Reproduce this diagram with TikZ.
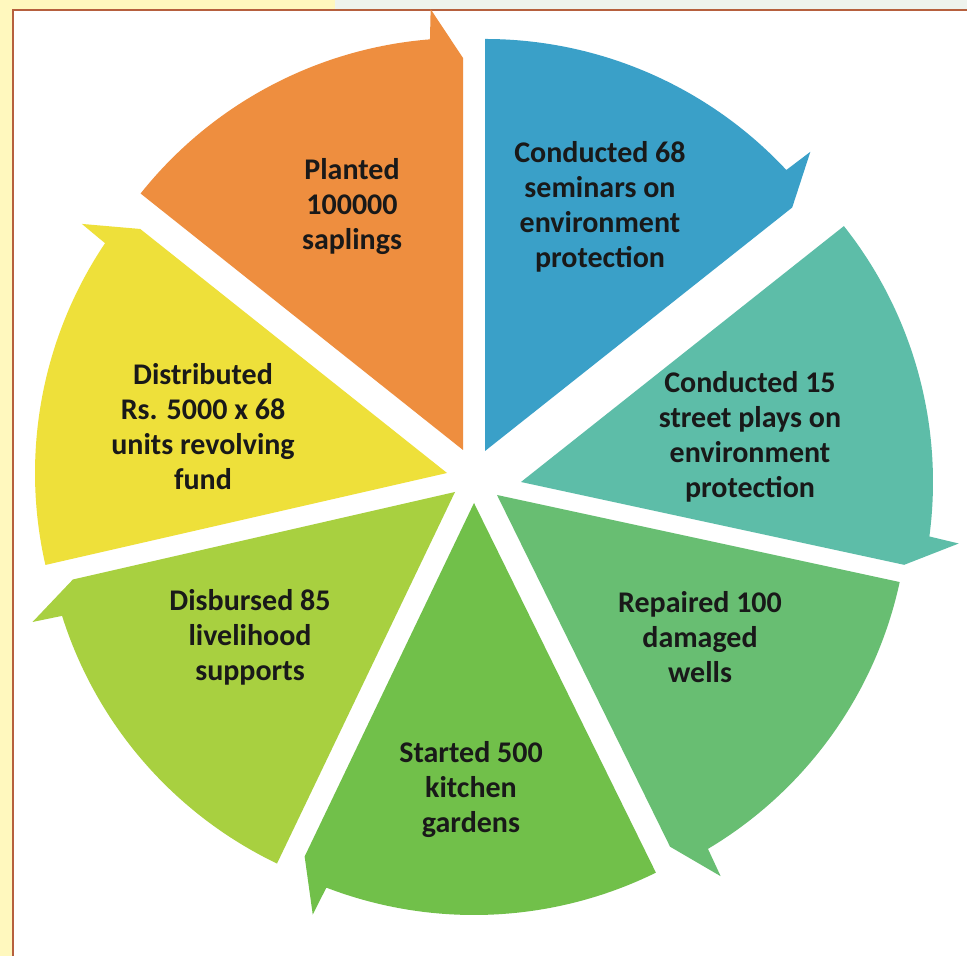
\documentclass[tikz,border=0pt]{standalone}
\usepackage{fontspec}
\setmainfont{Carlito}
\definecolor{paneyellow}{RGB}{255,248,190}
\definecolor{panegray}{RGB}{238,243,237}
\definecolor{framebrown}{RGB}{182,96,62}
\definecolor{segorange}{RGB}{238,142,63}
\definecolor{segblue}{RGB}{58,160,200}
\definecolor{segteal}{RGB}{93,189,168}
\definecolor{segwell}{RGB}{104,190,114}
\definecolor{seggarden}{RGB}{113,192,74}
\definecolor{seglime}{RGB}{168,208,64}
\definecolor{segyellow}{RGB}{238,224,58}
\begin{document}
\begin{tikzpicture}[x=0.5pt,y=0.5pt,
    lbl/.style={align=center,font=\fontsize{15}{17.5}\selectfont\bfseries,text=black!90}]
  \useasboundingbox (0,0) rectangle (967,956);
  \fill[paneyellow] (0,0) rectangle (967,956);
  \fill[panegray] (335,947) rectangle (967,956);
  \fill[white] (13,0) rectangle (967,946);
  \draw[framebrown,line width=1.1pt] (13,0) -- (13,946) -- (967,946);

  \foreach \ax/\ay/\hi/\lo/\col in {463/506/141.5/90/segorange,
      485/505/90/38.4/segblue, 521/474/38.4/-12.2/segteal,
      497/461/-12.2/-63.8/segwell, 474/453/-63.8/-115.6/seggarden,
      455/464/-115.6/-167.1/seglime, 447/483/192.9/141.5/segyellow}{
    \begin{scope}[shift={(\ax,\ay)}]
      \fill[\col] (0,0) -- (\hi:412) arc[start angle=\hi,end angle=\lo+4.6,radius=412]
        -- (\lo+4.2:442) -- (\lo:392) -- cycle;
    \end{scope}
  }

  \node[lbl] (planted) at (352,749) {Planted\\100000\\saplings};
  \node[lbl] (seminars) at (600,749) {Conducted 68\\seminars on\\environment\\protection};
  \node[lbl] (plays) at (750,519) {Conducted 15\\street plays on\\environment\\protection};
  \node[lbl] (wells) at (700,319) {Repaired 100\\damaged\\wells};
  \node[lbl] (gardens) at (471,166) {Started 500\\kitchen\\gardens};
  \node[lbl] (supports) at (250,319) {Disbursed 85\\livelihood\\supports};
  \node[lbl] (fund) at (203,529) {Distributed\\Rs. 5000 x 68\\units revolving\\fund};
\end{tikzpicture}
\end{document}
